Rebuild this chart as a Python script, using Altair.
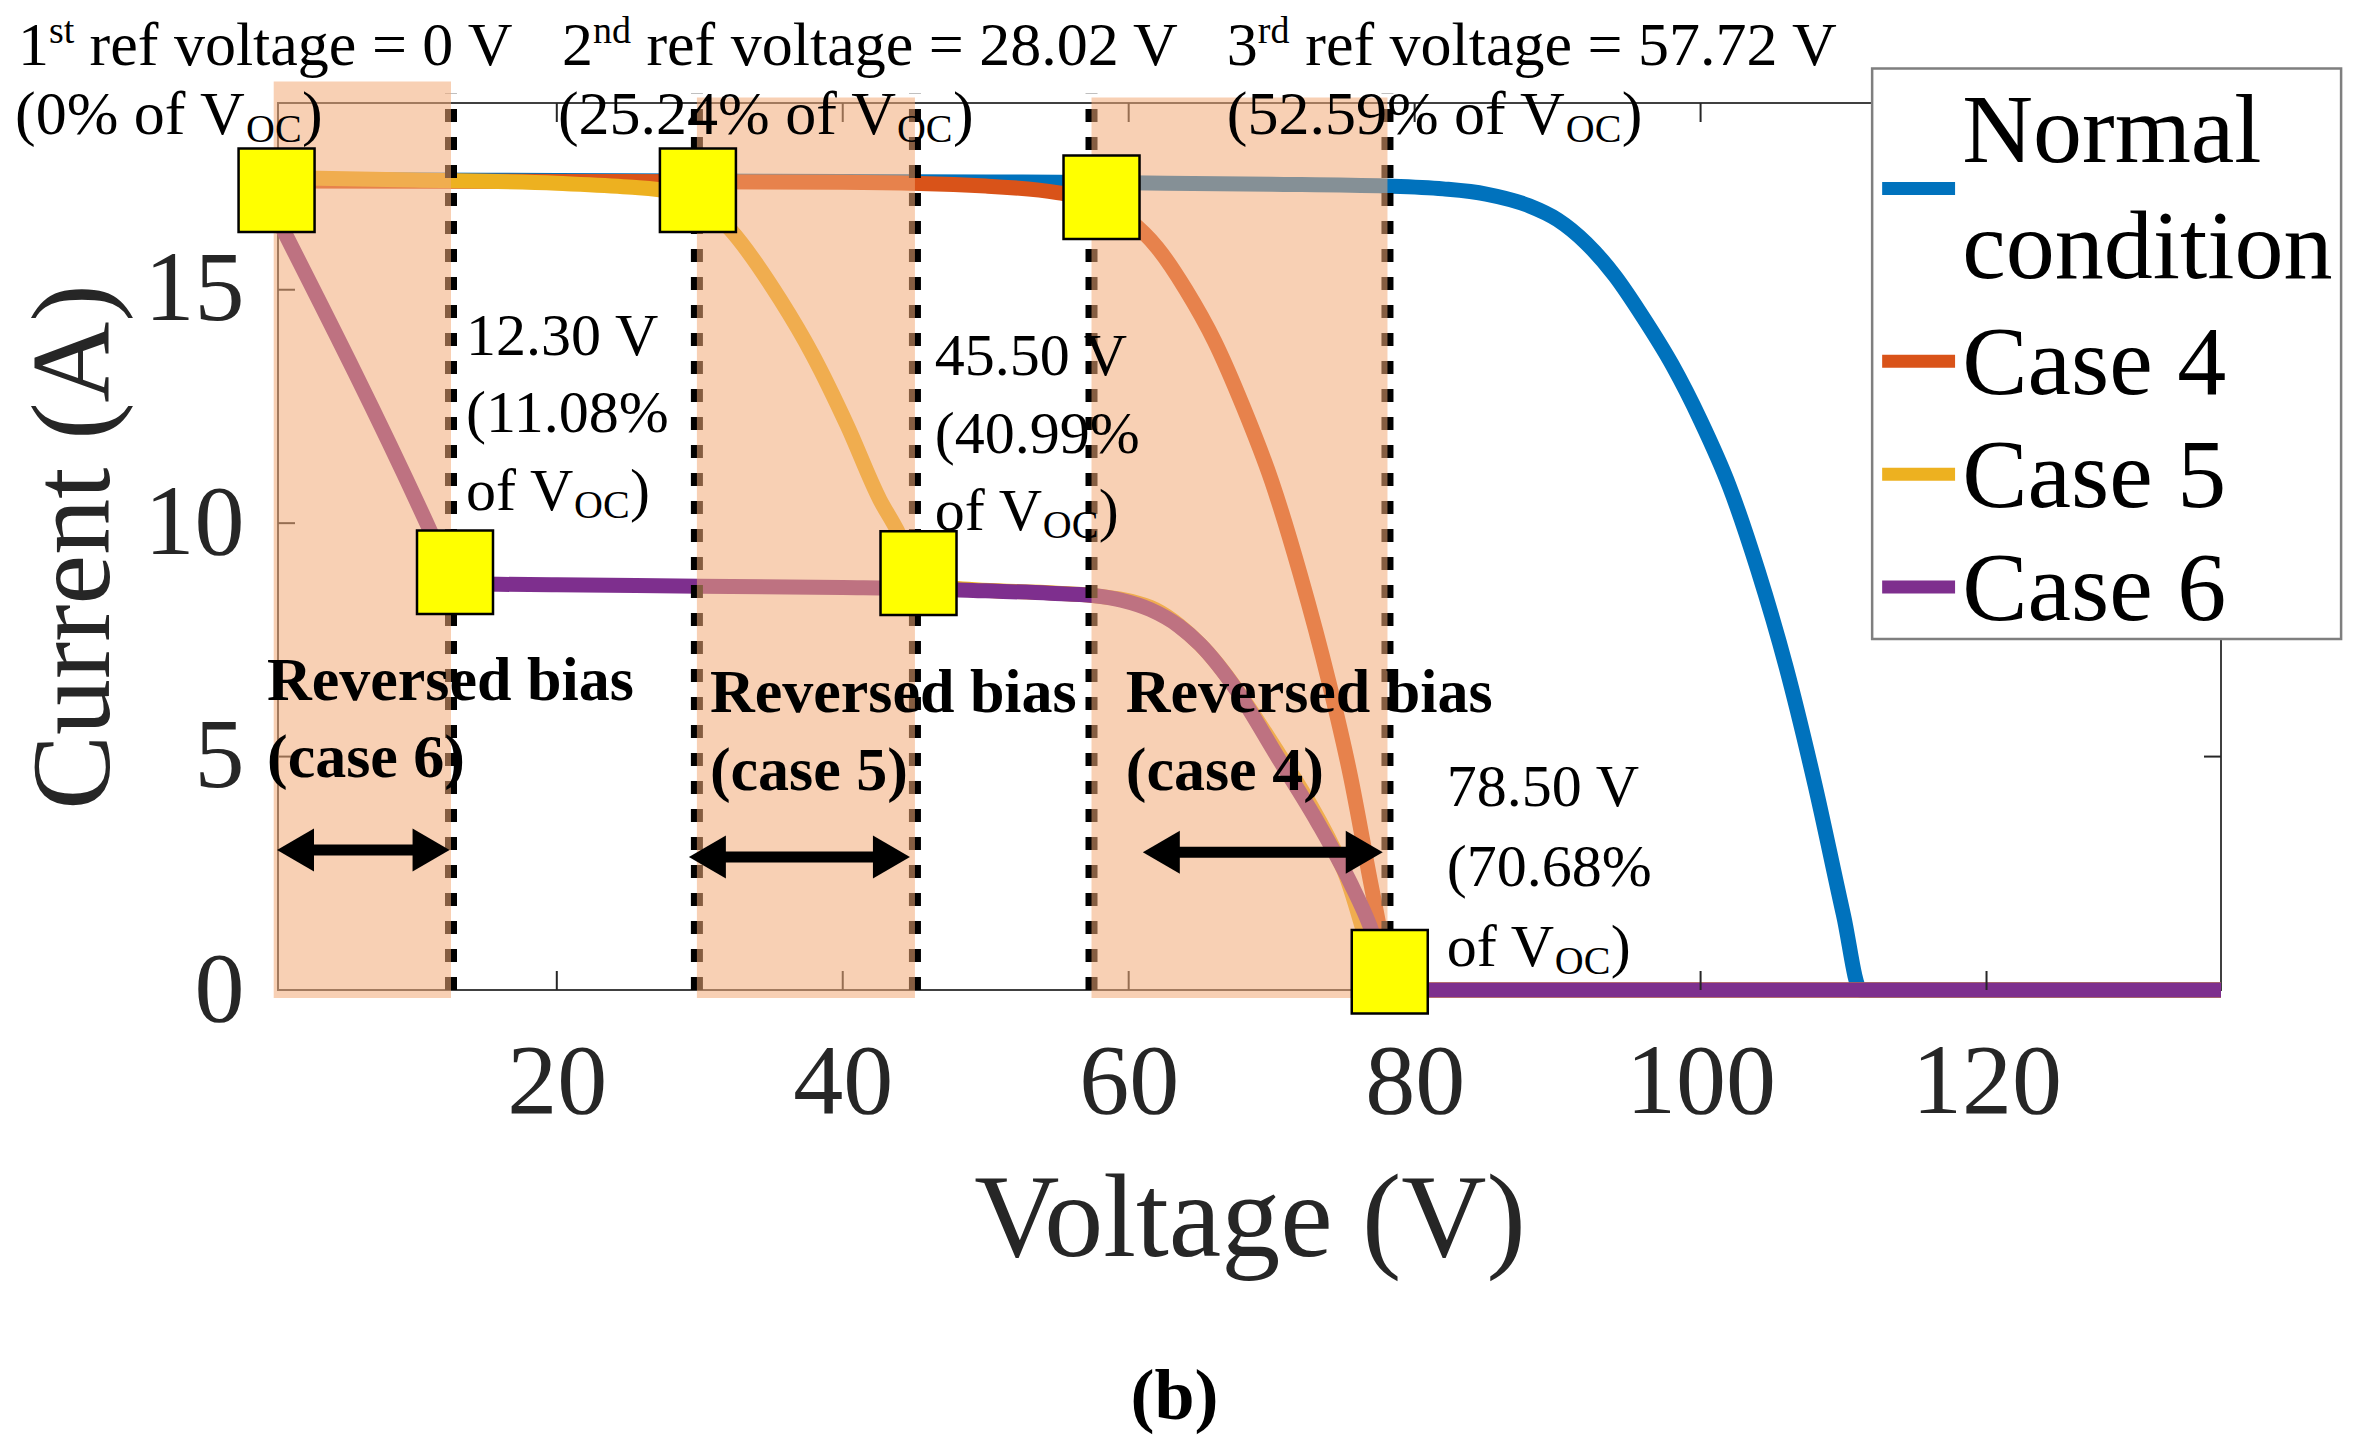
import altair as alt
import pandas as pd

FONT = "Liberation Serif"

# ---------------- data ----------------
series_names = ["Normal condition", "Case 4", "Case 5", "Case 6"]
series_colors = ["#0072BD", "#D95319", "#EDB120", "#7E2F8E"]

normal_v = [0.5, 10, 20, 30, 40, 50, 60, 70, 78, 82, 85, 88, 90, 92, 94, 96, 98, 100, 102, 104, 106, 108, 110, 111.2, 120, 136.4]
normal_i = [17.36, 17.35, 17.34, 17.33, 17.32, 17.31, 17.29, 17.26, 17.22, 17.16, 17.05, 16.8, 16.5, 16.0, 15.3, 14.4, 13.4, 12.2, 10.8, 9.0, 6.9, 4.4, 1.6, 0, 0, 0]

case4_v = [0.5, 20, 40, 50, 55, 57.7, 60, 62, 64, 66, 68, 70, 72, 74, 75.5, 76.8, 77.8, 78.3, 100, 136.4]
case4_i = [17.33, 17.32, 17.3, 17.22, 17.08, 16.9, 16.5, 15.9, 15.0, 13.9, 12.5, 10.9, 8.9, 6.6, 4.6, 2.5, 0.9, 0, 0, 0]

case5_v = [0.5, 10, 20, 25, 28, 29.8, 32.1, 35.6, 37.9, 40.3, 42.6, 43.8, 45.2, 48, 55, 57.5, 61.5, 65, 70, 75, 78.3, 136.4]
case5_i = [17.4, 17.35, 17.28, 17.2, 17.1, 16.95, 16.3, 14.8, 13.6, 12.1, 10.5, 9.85, 8.9, 8.6, 8.5, 8.45, 8.2, 7.4, 5.3, 2.6, 0, 0]

case6_v = [0.5, 11.2, 12.6, 14, 20, 30, 40, 45, 50, 54.5, 57.5, 59.5, 61.5, 63.5, 65, 67.6, 70.4, 73.2, 75.5, 76.9, 78.3, 100, 136.4]
case6_i = [16.5, 9.8, 8.85, 8.7, 8.68, 8.65, 8.62, 8.6, 8.55, 8.5, 8.45, 8.35, 8.15, 7.8, 7.4, 6.4, 5.0, 3.6, 2.3, 1.35, 0, 0, 0]

x_ticks = [20, 40, 60, 80, 100, 120]
y_ticks = [0, 5, 10, 15]

ref_lines = [12.6, 29.8, 45.05, 57.4, 78.1]
region_left = [0.2, 29.8, 57.4]
region_right = [12.6, 45.05, 78.1]
region_top = [19.46, 19.12, 19.12]

square_v = [0.4, 29.87, 58.1, 12.88, 45.3, 78.26]
square_i = [17.13, 17.13, 16.98, 8.95, 8.93, 0.39]

arrow_start = [0.43, 29.24, 60.99]
arrow_end = [12.5, 44.7, 77.77]
arrow_i = [3.0, 2.85, 2.95]

top_first = ["1", "2", "3"]
top_sup = ["st", "nd", "rd"]
top_rest = ["ref voltage = 0 V", "ref voltage = 28.02 V", "ref voltage = 57.72 V"]
top_line2 = ["(0% of V", "(25.24% of V", "(52.59% of V"]
top_x1 = [-17.68, 20.36, 66.86]
top_x2 = [-17.89, 20.08, 66.86]
top_y1 = 19.81
top_y2 = 18.33

mid_x = [13.65, 46.44, 82.25]
mid_line1 = ["12.30 V", "45.50 V", "78.50 V"]
mid_line2 = ["(11.08%", "(40.99%", "(70.68%"]
mid_y1 = [13.6, 13.17, 3.94]
mid_y2 = [11.95, 11.5, 2.22]
mid_y3 = [10.28, 9.85, 0.52]

rb_x = [-0.27, 30.71, 59.8]
rb_y1 = [6.21, 5.95, 5.95]
rb_y2 = [4.56, 4.28, 4.28]
rb_case = ["(case 6)", "(case 5)", "(case 4)"]

legend_labels = ["Normal", "condition", "Case 4", "Case 5", "Case 6"]
legend_text_y = [17.73, 15.25, 12.76, 10.34, 7.92]
legend_sym_y = [17.17, 13.47, 11.05, 8.63]

# ---------------- scales / helpers ----------------
W, H = 1943, 887
XMIN, XMAX = 0.5, 136.4
PX_PER_V = W / (XMAX - XMIN)
PX_PER_A = H / 19.0
XS = alt.Scale(domain=[XMIN, XMAX], nice=False, zero=False)
YS = alt.Scale(domain=[0, 19], nice=False, zero=False)
AX = "#262626"

x_axis = alt.Axis(title="Voltage (V)", values=x_ticks, format="d", grid=False, ticks=False,
                  tickSize=0, domain=False, labelFont=FONT, labelFontSize=100, labelColor=AX,
                  labelPadding=43, labelFlush=False, labelOverlap=False, titleFont=FONT,
                  titleFontSize=118, titleFontWeight="normal", titleColor=AX, titlePadding=30)
y_axis = alt.Axis(title="Current (A)", values=y_ticks, format="d", grid=False, ticks=False,
                  tickSize=0, domain=False, labelFont=FONT, labelFontSize=100, labelColor=AX,
                  labelPadding=34, labelOverlap=False, titleFont=FONT, titleFontSize=112,
                  titleFontWeight="normal", titleColor=AX, titlePadding=12)


def X(f="x"):
    return alt.X(f"{f}:Q", scale=XS, axis=x_axis)


def Y(f="y"):
    return alt.Y(f"{f}:Q", scale=YS, axis=y_axis)


def text_layer(xs, ys, texts, size, dx=0, dy=0, bold=False, align="left", color="black"):
    df = pd.DataFrame({"x": xs, "y": ys, "t": texts})
    return alt.Chart(df).mark_text(
        font=FONT, fontSize=size, dx=dx, dy=dy,
        fontWeight="bold" if bold else "normal",
        align=align, baseline="alphabetic", color=color,
    ).encode(x=X(), y=Y(), text="t:N")


color_scale = alt.Scale(domain=series_names, range=series_colors)

layers = []

# curves (MATLAB plotting order: blue, red, yellow, purple on top)
all_v = [normal_v, case4_v, case5_v, case6_v]
all_i = [normal_i, case4_i, case5_i, case6_i]
for k, name in enumerate(series_names):
    df = pd.DataFrame({"x": all_v[k], "y": all_i[k], "s": name})
    layers.append(
        alt.Chart(df).mark_line(strokeWidth=15, interpolate="monotone", strokeCap="butt").encode(
            x=X(), y=Y(),
            color=alt.Color("s:N", scale=color_scale, legend=None),
        )
    )

# inner ticks (MATLAB style box ticks)
tick_len_a = 19 / PX_PER_A
tick_len_v = 17 / PX_PER_V
bt = pd.DataFrame({"x": x_ticks, "y": [0] * len(x_ticks), "y2": [tick_len_a] * len(x_ticks)})
tt = pd.DataFrame({"x": x_ticks, "y": [19] * len(x_ticks), "y2": [19 - tick_len_a] * len(x_ticks)})
for d in (bt, tt):
    layers.append(alt.Chart(d).mark_rule(color=AX, strokeWidth=2).encode(
        x=X(), y=Y(), y2=alt.Y2("y2:Q")))
lt = pd.DataFrame({"y": y_ticks[1:], "x": [XMIN] * 3, "x2": [XMIN + tick_len_v] * 3})
rt = pd.DataFrame({"y": y_ticks[1:], "x": [XMAX] * 3, "x2": [XMAX - tick_len_v] * 3})
for d in (lt, rt):
    layers.append(alt.Chart(d).mark_rule(color=AX, strokeWidth=2).encode(
        x=X(), x2=alt.X2("x2:Q"), y=Y()))

# dashed reference lines
dl = pd.DataFrame({"x": ref_lines, "y": [0] * 5, "y2": [19.2] * 5})
layers.append(alt.Chart(dl).mark_rule(color="black", strokeWidth=12, strokeDash=[13, 15]).encode(
    x=X(), y=Y(), y2=alt.Y2("y2:Q")))

# shaded reverse-bias regions (drawn over the curves)
rg = pd.DataFrame({"x": region_left, "x2": region_right, "y": region_top, "y2": [-0.17] * 3})
layers.append(alt.Chart(rg).mark_rect(color="#F2AA77", opacity=0.55).encode(
    x=X(), x2=alt.X2("x2:Q"), y=Y(), y2=alt.Y2("y2:Q")))

# yellow reference squares
sq = pd.DataFrame({"x": square_v, "y": square_i})
layers.append(alt.Chart(sq).mark_point(
    shape="M-1,-1.1L1,-1.1L1,1.1L-1,1.1Z", size=5776, filled=True, fill="#FFFF00",
    stroke="black", strokeWidth=2.5, opacity=1, fillOpacity=1).encode(x=X(), y=Y()))

# double arrows
head_v = 30 / PX_PER_V
shaft = pd.DataFrame({"x": [s + head_v for s in arrow_start], "x2": [e - head_v for e in arrow_end], "y": arrow_i})
layers.append(alt.Chart(shaft).mark_rule(color="black", strokeWidth=11).encode(
    x=X(), x2=alt.X2("x2:Q"), y=Y()))
hl = pd.DataFrame({"x": arrow_start, "y": arrow_i})
hr = pd.DataFrame({"x": arrow_end, "y": arrow_i})
layers.append(alt.Chart(hl).mark_point(shape="M0,0L1,-0.58L1,0.58Z", size=5476, filled=True,
                                       fill="black", strokeWidth=0, opacity=1).encode(x=X(), y=Y()))
layers.append(alt.Chart(hr).mark_point(shape="M0,0L-1,-0.58L-1,0.58Z", size=5476, filled=True,
                                       fill="black", strokeWidth=0, opacity=1).encode(x=X(), y=Y()))

# top reference-voltage labels
sup_w = [25, 38, 32]
oc_dx = [231, 339, 339]
for i in range(3):
    layers.append(text_layer([top_x1[i]], [top_y1], [top_first[i]], 62))
    layers.append(text_layer([top_x1[i]], [top_y1], [top_sup[i]], 38, dx=31, dy=-22))
    layers.append(text_layer([top_x1[i]], [top_y1], [top_rest[i]], 62, dx=31 + sup_w[i] + 15.5))
    layers.append(text_layer([top_x2[i]], [top_y2], [top_line2[i]], 62))
    layers.append(text_layer([top_x2[i]], [top_y2], ["OC"], 40, dx=oc_dx[i], dy=8))
    layers.append(text_layer([top_x2[i]], [top_y2], [")"], 62, dx=oc_dx[i] + 56))

# boundary voltage labels
layers.append(text_layer(mid_x, mid_y1, mid_line1, 60))
layers.append(text_layer(mid_x, mid_y2, mid_line2, 60))
layers.append(text_layer(mid_x, mid_y3, ["of V"] * 3, 60))
layers.append(text_layer(mid_x, mid_y3, ["OC"] * 3, 40, dx=108, dy=8))
layers.append(text_layer(mid_x, mid_y3, [")"] * 3, 60, dx=164))

# reversed-bias labels
layers.append(text_layer(rb_x, rb_y1, ["Reversed bias"] * 3, 62, bold=True))
layers.append(text_layer(rb_x, rb_y2, rb_case, 62, bold=True))

# panel label
layers.append(text_layer([63.2], [-9.2], ["(b)"], 72, bold=True, align="center"))

# legend (drawn as marks)
lb = pd.DataFrame({"x": [112.0], "x2": [144.8], "y": [19.74], "y2": [7.52]})
layers.append(alt.Chart(lb).mark_rect(fill="white", stroke="#7f7f7f", strokeWidth=2.5).encode(
    x=X(), x2=alt.X2("x2:Q"), y=Y(), y2=alt.Y2("y2:Q")))
ls = pd.DataFrame({"x": [112.7] * 4, "x2": [117.8] * 4, "y": legend_sym_y, "s": series_names})
layers.append(alt.Chart(ls).mark_rule(strokeWidth=13).encode(
    x=X(), x2=alt.X2("x2:Q"), y=Y(), color=alt.Color("s:N", scale=color_scale, legend=None)))
layers.append(text_layer([118.3] * 5, legend_text_y, legend_labels, 98))

chart = alt.layer(*layers).properties(
    width=W, height=H,
    autosize=alt.AutoSizeParams(type="none"),
    padding={"left": 270, "top": 95, "right": 125, "bottom": 445},
).configure_view(stroke="#404040", strokeWidth=2)

chart.save("out.html", embed_options={"renderer": "svg", "actions": False})
